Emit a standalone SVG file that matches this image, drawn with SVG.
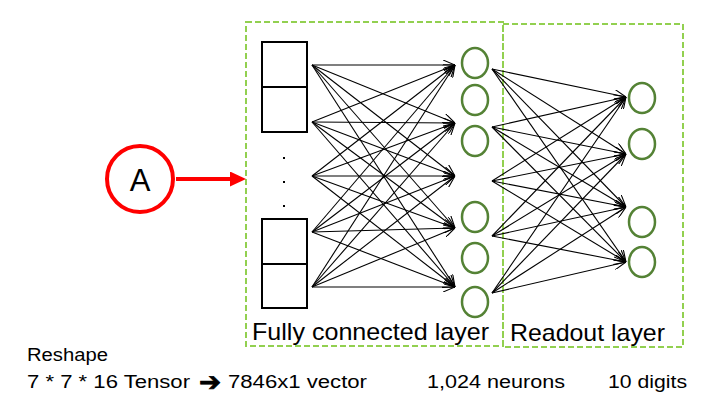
<svg xmlns="http://www.w3.org/2000/svg" width="717" height="417" viewBox="0 0 717 417">
<style>
.box{fill:none;stroke:#92D050;stroke-width:2;stroke-dasharray:6 3}
.cell{fill:#fff;stroke:#000;stroke-width:2}
.neuron{fill:none;stroke:#548235;stroke-width:2.5}
.conn line{stroke:#000;stroke-width:1.1;marker-end:url(#arr)}
.t{font-family:"Liberation Sans",Arial,sans-serif;fill:#000}
.dot{fill:#000}
</style>
<defs>
<marker id="arr" viewBox="0 0 12 10" refX="12" refY="5" markerWidth="12" markerHeight="10" markerUnits="userSpaceOnUse" orient="auto">
<path d="M0,0 L12,5 L0,10" fill="none" stroke="#000" stroke-width="1.1"/>
</marker>
<marker id="redarr" viewBox="0 0 16 15" refX="2" refY="7.5" markerWidth="16" markerHeight="15" markerUnits="userSpaceOnUse" orient="auto">
<path d="M0,0 L16,7.5 L0,15 Z" fill="#FF0000"/>
</marker>
</defs>
<rect width="717" height="417" fill="#fff"/>

<g id="fc-layer-box"><rect class="box" x="246" y="22" width="257" height="324"/></g>
<g id="readout-layer-box"><rect class="box" x="503" y="24" width="180" height="323"/></g>

<g id="node-A">
<circle cx="140" cy="179" r="33" fill="#fff" stroke="#FF0000" stroke-width="4"/>
<text class="t" x="140" y="191" font-size="31" text-anchor="middle">A</text>
</g>

<g id="input-top">
<rect class="cell" x="262" y="42" width="45" height="45"/>
<rect class="cell" x="262" y="87" width="45" height="45"/>
</g>
<g id="input-dots">
<rect class="dot" x="283" y="157" width="2" height="2"/>
<rect class="dot" x="283" y="181" width="2" height="2"/>
<rect class="dot" x="283" y="205" width="2" height="2"/>
</g>
<g id="input-bottom">
<rect class="cell" x="262" y="219" width="45" height="45"/>
<rect class="cell" x="262" y="264" width="45" height="44"/>
</g>

<g id="fc-neurons">
<ellipse class="neuron" cx="475" cy="63" rx="13" ry="15"/>
<ellipse class="neuron" cx="475" cy="100" rx="13" ry="15"/>
<ellipse class="neuron" cx="475" cy="141" rx="13" ry="15"/>
<ellipse class="neuron" cx="475" cy="217" rx="13" ry="15"/>
<ellipse class="neuron" cx="475" cy="258" rx="13" ry="15"/>
<ellipse class="neuron" cx="475" cy="302" rx="13" ry="15"/>
</g>

<g id="readout-neurons">
<ellipse class="neuron" cx="642" cy="98" rx="13" ry="15"/>
<ellipse class="neuron" cx="642" cy="144" rx="13" ry="15"/>
<ellipse class="neuron" cx="642" cy="222" rx="13" ry="15"/>
<ellipse class="neuron" cx="642" cy="262" rx="13" ry="15"/>
</g>

<g id="connectors">
<line x1="176" y1="179" x2="232" y2="179" stroke="#FF0000" stroke-width="4" marker-end="url(#redarr)"/>
<g class="conn">
<line x1="312" y1="65" x2="455" y2="65"/>
<line x1="312" y1="65" x2="455" y2="123"/>
<line x1="312" y1="65" x2="455" y2="176"/>
<line x1="312" y1="65" x2="455" y2="228"/>
<line x1="312" y1="65" x2="455" y2="287"/>
<line x1="312" y1="122" x2="455" y2="65"/>
<line x1="312" y1="122" x2="455" y2="123"/>
<line x1="312" y1="122" x2="455" y2="176"/>
<line x1="312" y1="122" x2="455" y2="228"/>
<line x1="312" y1="122" x2="455" y2="287"/>
<line x1="312" y1="176" x2="455" y2="65"/>
<line x1="312" y1="176" x2="455" y2="123"/>
<line x1="312" y1="176" x2="455" y2="176"/>
<line x1="312" y1="176" x2="455" y2="228"/>
<line x1="312" y1="176" x2="455" y2="287"/>
<line x1="312" y1="232" x2="455" y2="65"/>
<line x1="312" y1="232" x2="455" y2="123"/>
<line x1="312" y1="232" x2="455" y2="176"/>
<line x1="312" y1="232" x2="455" y2="228"/>
<line x1="312" y1="232" x2="455" y2="287"/>
<line x1="312" y1="287" x2="455" y2="65"/>
<line x1="312" y1="287" x2="455" y2="123"/>
<line x1="312" y1="287" x2="455" y2="176"/>
<line x1="312" y1="287" x2="455" y2="228"/>
<line x1="312" y1="287" x2="455" y2="287"/>

<line x1="492" y1="69" x2="626" y2="97"/>
<line x1="492" y1="69" x2="626" y2="154"/>
<line x1="492" y1="69" x2="626" y2="207"/>
<line x1="492" y1="69" x2="626" y2="262"/>
<line x1="492" y1="127" x2="626" y2="97"/>
<line x1="492" y1="127" x2="626" y2="154"/>
<line x1="492" y1="127" x2="626" y2="207"/>
<line x1="492" y1="127" x2="626" y2="262"/>
<line x1="492" y1="181" x2="626" y2="97"/>
<line x1="492" y1="181" x2="626" y2="154"/>
<line x1="492" y1="181" x2="626" y2="207"/>
<line x1="492" y1="181" x2="626" y2="262"/>
<line x1="492" y1="236" x2="626" y2="97"/>
<line x1="492" y1="236" x2="626" y2="154"/>
<line x1="492" y1="236" x2="626" y2="207"/>
<line x1="492" y1="236" x2="626" y2="262"/>
<line x1="492" y1="293" x2="626" y2="97"/>
<line x1="492" y1="293" x2="626" y2="154"/>
<line x1="492" y1="293" x2="626" y2="207"/>
<line x1="492" y1="293" x2="626" y2="262"/>
</g>
</g>

<g id="labels">
<text class="t" x="252" y="340" font-size="24" textLength="237" lengthAdjust="spacingAndGlyphs">Fully connected layer</text>
<text class="t" x="510" y="341" font-size="24" textLength="155" lengthAdjust="spacingAndGlyphs">Readout layer</text>
<text class="t" x="27" y="361" font-size="17.5" textLength="81" lengthAdjust="spacingAndGlyphs">Reshape</text>
<text class="t" x="27" y="388" font-size="17.5" textLength="163" lengthAdjust="spacingAndGlyphs">7 * 7 * 16 Tensor</text>
<text x="199" y="391" font-size="26" font-weight="bold" font-family="DejaVu Sans,sans-serif" textLength="22" lengthAdjust="spacingAndGlyphs" stroke="#000" stroke-width="0.8">➔</text>
<text class="t" x="228" y="388" font-size="17.5" textLength="139" lengthAdjust="spacingAndGlyphs">7846x1 vector</text>
<text class="t" x="427" y="388" font-size="17.5" textLength="138" lengthAdjust="spacingAndGlyphs">1,024 neurons</text>
<text class="t" x="608" y="388" font-size="17.5" textLength="79" lengthAdjust="spacingAndGlyphs">10 digits</text>
</g>
</svg>
